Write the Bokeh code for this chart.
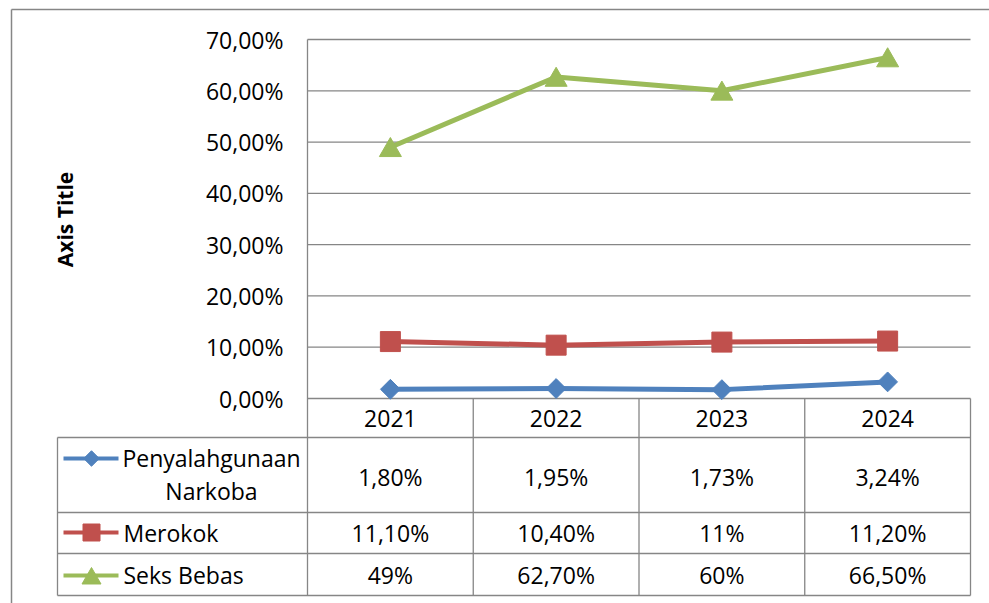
import math
from bokeh.plotting import figure
from bokeh.models import Range1d
from bokeh.core.properties import value
from bokeh.embed import file_html
from bokeh.resources import INLINE

# ---------------- data ----------------
years = ["2021", "2022", "2023", "2024"]
series_names = ["Penyalahgunaan\nNarkoba", "Merokok", "Seks Bebas"]
narkoba = [1.80, 1.95, 1.73, 3.24]
merokok = [11.10, 10.40, 11.00, 11.20]
seks = [49.00, 62.70, 60.00, 66.50]
narkoba_labels = ["1,80%", "1,95%", "1,73%", "3,24%"]
merokok_labels = ["11,10%", "10,40%", "11%", "11,20%"]
seks_labels = ["49%", "62,70%", "60%", "66,50%"]
y_ticks = [0, 10, 20, 30, 40, 50, 60, 70]
y_tick_labels = ["0,00%", "10,00%", "20,00%", "30,00%", "40,00%", "50,00%", "60,00%", "70,00%"]
axis_title = "Axis Title"

# ---------------- layout helpers (page pixel -> data) ----------------
W, H = 989, 603
OFF = 0
PX0, PX1 = 307, 970          # plot area left/right (page px)
PY0, PY70 = 398, 39          # 0% and 70% (page px)
cw = (PX1 - PX0) / len(years)
ky = (PY0 - PY70) / 70.0


def X(px):
    return (px - PX0) / cw


def Y(py):
    return (PY0 - py) / ky


FONT = value("Open Sans")
GRID = "#868686"
BLUE, RED, GREEN = "#4F81BD", "#C0504D", "#9BBB59"
TXT = "#000000"

p = figure(width=W, height=H, output_backend="svg", toolbar_location=None,
           x_range=Range1d(X(OFF), X(OFF + W)), y_range=Range1d(Y(OFF + H), Y(OFF)),
           x_axis_location=None, y_axis_location=None, min_border=0,
           outline_line_color=None, background_fill_color="white",
           border_fill_color="white")
p.grid.visible = False

# outer chart border (top and left visible)
p.segment(x0=[X(11), X(11)], y0=[Y(9), Y(9)], x1=[X(1000), X(11)], y1=[Y(9), Y(700)],
          line_color=GRID, line_width=1.5)

# horizontal gridlines
n = len(years)
p.segment(x0=[0] * len(y_ticks), y0=y_ticks, x1=[n] * len(y_ticks), y1=y_ticks,
          line_color=GRID, line_width=1.3)

# vertical axis line / table column borders
bounds = list(range(n + 1))
p.segment(x0=[0], y0=[Y(39)], x1=[0], y1=[Y(595)], line_color=GRID, line_width=1.3)
p.segment(x0=bounds[1:], y0=[0] * n, x1=bounds[1:], y1=[Y(595)] * n,
          line_color=GRID, line_width=1.3)
p.segment(x0=[X(57)], y0=[Y(437)], x1=[X(57)], y1=[Y(595)], line_color=GRID, line_width=1.3)
row_lines = [Y(437), Y(512), Y(553), Y(595)]
p.segment(x0=[X(57)] * 4, y0=row_lines, x1=[n] * 4, y1=row_lines,
          line_color=GRID, line_width=1.3)

# y tick labels
p.text(x=[X(283)] * len(y_ticks), y=y_ticks, text=y_tick_labels, text_font=FONT,
       text_font_size="23px", text_align="right", text_baseline="middle", text_color=TXT)

# axis title
p.text(x=[X(64)], y=[Y(219)], text=[axis_title], angle=math.pi / 2, text_font=FONT,
       text_font_size="21px", text_font_style="bold", text_align="center",
       text_baseline="middle", text_color=TXT)

xs = [i + 0.5 for i in range(n)]

# header row (years)
p.text(x=xs, y=[Y(418)] * n, text=years, text_font=FONT, text_font_size="23px",
       text_align="center", text_baseline="middle", text_color=TXT)

# series lines and markers
p.line(xs, narkoba, line_color=BLUE, line_width=5, line_join="round")
p.line(xs, merokok, line_color=RED, line_width=5, line_join="round")
p.line(xs, seks, line_color=GREEN, line_width=5, line_join="round")
p.scatter(xs, narkoba, marker="square", angle=math.pi / 4, size=14,
          fill_color=BLUE, line_color=BLUE)
p.scatter(xs, merokok, marker="square", size=20, fill_color=RED, line_color=RED)
d = 3.0 / ky
p.extra_y_ranges = {"tri": Range1d(Y(OFF + H) + d, Y(OFF) + d)}
p.scatter(xs, seks, marker="triangle", size=22, fill_color=GREEN, line_color=GREEN,
          y_range_name="tri")

# table rows
row_y = [Y(476), Y(532.5), Y(574)]
for vals, yy in zip([narkoba_labels, merokok_labels, seks_labels], row_y):
    p.text(x=xs, y=[yy] * n, text=vals, text_font=FONT, text_font_size="23px",
           text_align="center", text_baseline="middle", text_color=TXT)

# legend keys in table
key_y = [Y(458), Y(532), Y(575)]
colors = [BLUE, RED, GREEN]
p.segment(x0=[X(63)] * 3, y0=key_y, x1=[X(118)] * 3, y1=key_y,
          line_color=colors, line_width=4)
p.scatter([X(91)], [key_y[0]], marker="square", angle=math.pi / 4, size=11,
          fill_color=BLUE, line_color=BLUE)
p.scatter([X(91)], [key_y[1]], marker="square", size=17, fill_color=RED, line_color=RED)
p.scatter([X(91)], [key_y[2]], marker="triangle", size=19, fill_color=GREEN,
          line_color=GREEN, y_range_name="tri")

# legend labels
p.text(x=[X(211)], y=[Y(474)], text=[series_names[0]], text_font=FONT,
       text_font_size="23px", text_align="center", text_baseline="middle",
       text_line_height=1.02, text_color=TXT)
p.text(x=[X(123)] * 2, y=[Y(532), Y(574)], text=series_names[1:], text_font=FONT,
       text_font_size="23px", text_align="left", text_baseline="middle", text_color=TXT)

open("out.html", "w").write(file_html(p, INLINE))
